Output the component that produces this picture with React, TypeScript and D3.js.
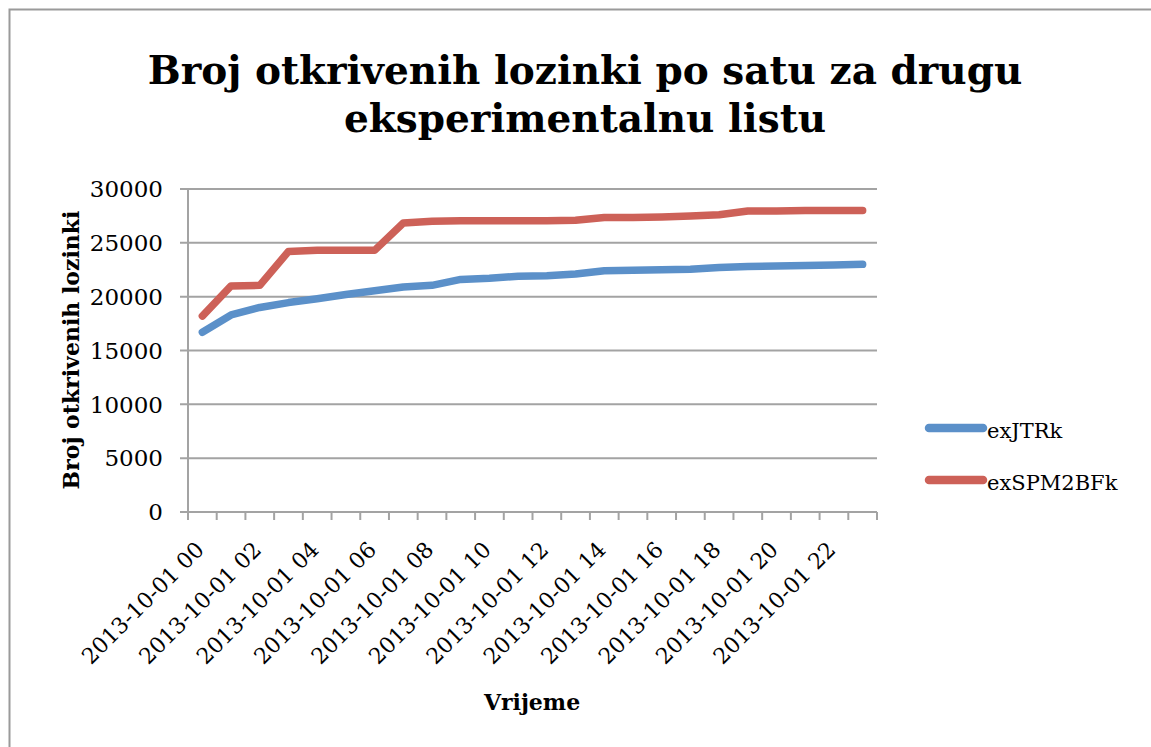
import React from "react";
import * as d3 from "d3";

const hours = [
  "2013-10-01 00", "2013-10-01 01", "2013-10-01 02", "2013-10-01 03",
  "2013-10-01 04", "2013-10-01 05", "2013-10-01 06", "2013-10-01 07",
  "2013-10-01 08", "2013-10-01 09", "2013-10-01 10", "2013-10-01 11",
  "2013-10-01 12", "2013-10-01 13", "2013-10-01 14", "2013-10-01 15",
  "2013-10-01 16", "2013-10-01 17", "2013-10-01 18", "2013-10-01 19",
  "2013-10-01 20", "2013-10-01 21", "2013-10-01 22", "2013-10-01 23",
];

const exJTRk = [
  16700, 18300, 19000, 19450, 19800, 20200, 20550, 20900,
  21050, 21600, 21700, 21900, 21950, 22100, 22400, 22450,
  22500, 22550, 22700, 22800, 22850, 22900, 22950, 23000,
];

const exSPM2BFk = [
  18200, 21000, 21050, 24200, 24300, 24300, 24300, 26850,
  27000, 27050, 27050, 27050, 27050, 27100, 27350, 27350,
  27400, 27500, 27600, 27950, 27950, 28000, 28000, 28000,
];

const yTicks = [0, 5000, 10000, 15000, 20000, 25000, 30000];

const seriesNames = ["exJTRk", "exSPM2BFk"];
const seriesColors = ["#5B90C9", "#CD6158"];

const W = 1151;
const H = 747;
const serif = "'DejaVu Serif', serif";
const grid = "#A3A3A3";

export default function App() {
  const x = d3.scaleBand<string>().domain(hours).range([188, 877]);
  const y = d3.scaleLinear().domain([0, 30000]).range([512, 189]);
  const cx = (h: string) => (x(h) as number) + x.bandwidth() / 2;

  const line = d3
    .line<number>()
    .x((_, i) => cx(hours[i]))
    .y((d) => y(d));

  const series = [exJTRk, exSPM2BFk];
  // tick marks sit on the band edges (Excel style)
  const tickEdges = hours.map((h) => x(h) as number).concat([x.range()[1]]);

  return (
    <svg
      width={W}
      height={H}
      style={{ position: "absolute", left: 0, top: 0, background: "#fff" }}
      fontFamily={serif}
    >
      <rect x={0} y={0} width={W} height={H} fill="#fff" />
      {/* chart frame */}
      <path d={`M9.5,${H} V9.5 H${W}`} fill="none" stroke="#9A9A9A" strokeWidth={2} />

      {/* title */}
      <text x={585} y={84} textAnchor="middle" fontSize={39} fontWeight="bold">
        Broj otkrivenih lozinki po satu za drugu
      </text>
      <text x={585} y={132} textAnchor="middle" fontSize={39} fontWeight="bold">
        eksperimentalnu listu
      </text>

      {/* gridlines + y ticks */}
      {yTicks.map((t) => (
        <g key={t}>
          <line x1={180} x2={877} y1={y(t)} y2={y(t)} stroke={grid} strokeWidth={2} />
          <text x={163} y={y(t)} dy="0.36em" textAnchor="end" fontSize={23}>
            {t}
          </text>
        </g>
      ))}

      {/* y axis */}
      <line x1={188} x2={188} y1={y(30000)} y2={y(0)} stroke={grid} strokeWidth={2} />

      {/* x ticks */}
      {tickEdges.map((e, i) => (
        <line key={i} x1={e} x2={e} y1={y(0)} y2={y(0) + 8} stroke={grid} strokeWidth={2} />
      ))}

      {/* x tick labels, every second hour */}
      {hours.map((h, i) =>
        i % 2 === 0 ? (
          <text
            key={h}
            transform={`translate(${cx(h) + 3},551) rotate(-45)`}
            textAnchor="end"
            fontSize={22}
          >
            {h}
          </text>
        ) : null
      )}

      {/* series */}
      {series.map((s, k) => (
        <path
          key={k}
          d={line(s) as string}
          fill="none"
          stroke={seriesColors[k]}
          strokeWidth={7.5}
          strokeLinejoin="round"
          strokeLinecap="round"
        />
      ))}

      {/* axis titles */}
      <text x={532} y={710} textAnchor="middle" fontSize={22} fontWeight="bold">
        Vrijeme
      </text>
      <text
        transform={`translate(79,350) rotate(-90)`}
        textAnchor="middle"
        fontSize={22}
        fontWeight="bold"
      >
        Broj otkrivenih lozinki
      </text>

      {/* legend */}
      {seriesNames.map((n, k) => (
        <g key={n} transform={`translate(0,${428 + k * 52})`}>
          <line x1={929} x2={983} y1={0} y2={0} stroke={seriesColors[k]} strokeWidth={8.5} strokeLinecap="round" />
          <text x={987} y={10} fontSize={21}>
            {n}
          </text>
        </g>
      ))}
    </svg>
  );
}
